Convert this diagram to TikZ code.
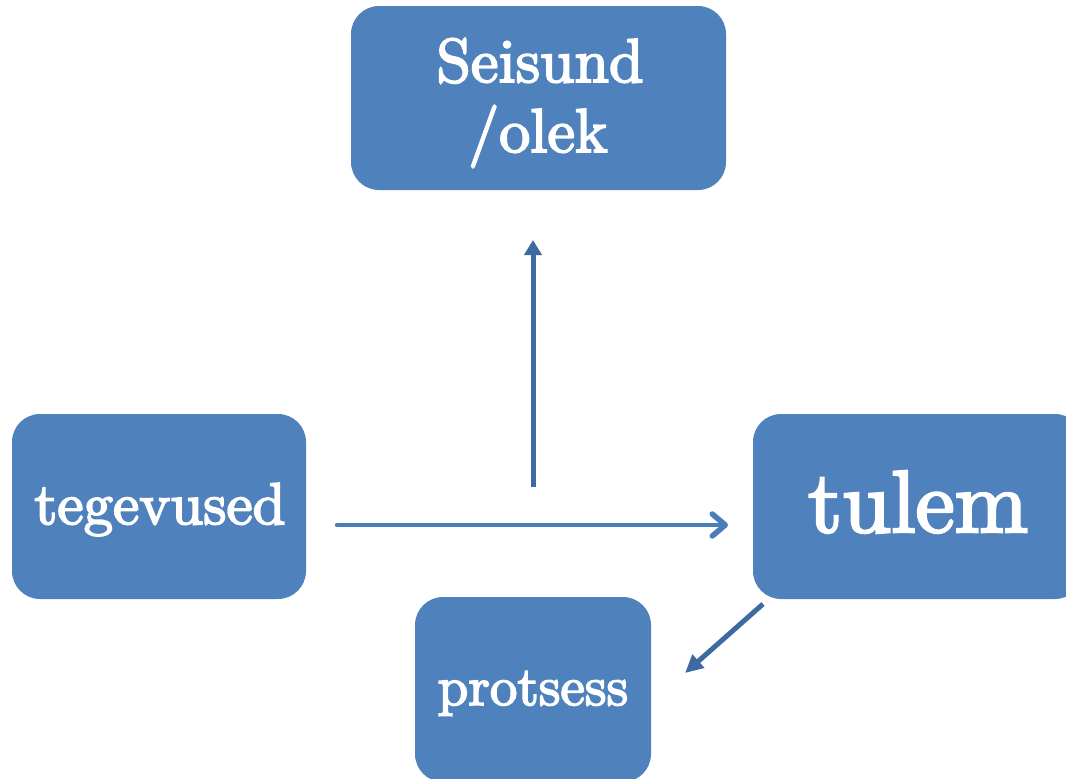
\documentclass[tikz,border=0pt]{standalone}
\usepackage{fontspec}
\newfontfamily\lmb[FakeBold=3]{lmroman10-regular.otf}
\usetikzlibrary{arrows.meta}
\definecolor{boxblue}{HTML}{4F81BD}
\definecolor{arrdark}{HTML}{3E6AA2}
\definecolor{arrmid}{HTML}{4A7EBB}
\tikzset{
  box/.style={draw=none, fill=boxblue, rounded corners=28pt, inner sep=0pt},
  lbl/.style={text=white, anchor=base, inner sep=0pt, font=\lmb},
  uparr/.style={draw=arrdark, line width=5pt, -{Triangle[length=15pt,width=17pt]}},
  diagarr/.style={draw=arrdark, line width=5pt, -{Triangle[length=18pt,width=17pt]}},
  horarr/.style={draw=arrmid, line width=4.5pt, line cap=round, -{Straight Barb[length=13pt,width=22pt,line cap=round,line join=round,line width=5.5pt]}}
}
\begin{document}
\begin{tikzpicture}[x=1pt,y=-1pt]
\useasboundingbox (0,0) rectangle (1066,779);
\begin{scope}
\clip (0,0) rectangle (1066,779);
\path[box] (351,6) rectangle (726,190);
\path[box] (12,414) rectangle (306,599);
\path[box] (753,414) rectangle (1083,599);
\path[box] (415,597) rectangle (651,782);
\end{scope}
\node[lbl, font=\lmb\fontsize{62}{71}\selectfont] (s1) at (540,82) {Seisund};
\node[lbl, font=\lmb\fontsize{62}{71}\selectfont] (s2) at (538,152) {/olek};
\node[lbl, font=\lmb\fontsize{59}{65}\selectfont] (teg) at (160,524) {tegevused};
\node[lbl, font=\lmb\fontsize{88}{95}\selectfont] (tul) at (918,532) {tulem};
\node[lbl, font=\lmb\fontsize{55}{60}\selectfont] (pro) at (533,705) {protsess};
\coordinate (ua) at (533,487);
\coordinate (ub) at (533,240);
\coordinate (ha) at (337,525);
\coordinate (hb) at (728,525);
\coordinate (da) at (763,604);
\coordinate (db) at (685,673);
\draw[uparr] (ua) -- (ub);
\draw[horarr] (ha) -- (hb);
\draw[diagarr] (da) -- (db);
\end{tikzpicture}
\end{document}
